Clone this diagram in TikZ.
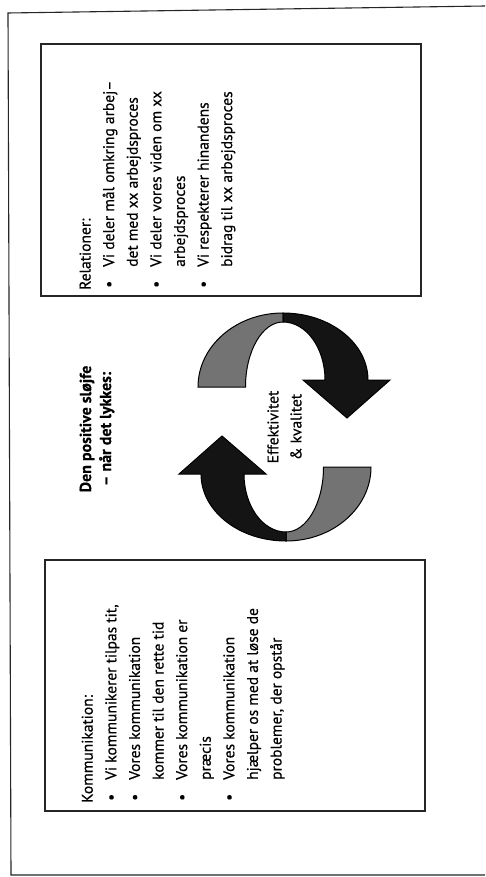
\documentclass[tikz,border=0pt]{standalone}
\usepackage{fontspec}
\setmainfont{PT Sans}[FakeBold=0.5]
\newcommand\bitem{\makebox[23pt][l]{\hspace{2pt}\textbullet}}
\newcommand\bcont{\hspace{23pt}}
\begin{document}
\begin{tikzpicture}[x=1pt,y=1pt,
  frameline/.style={draw=black!85, line width=1.1pt},
  panel/.style={draw=black!85, line width=1.2pt, rectangle, inner sep=0pt},
  bodyline/.style={rotate=90, anchor=base west, inner sep=0pt,
    font=\fontsize{15.5}{18}\selectfont},
  heading/.style={rotate=90, align=center, inner sep=0pt,
    font=\fontsize{16}{20}\selectfont\bfseries},
  hub/.style={rotate=90, align=center, inner sep=0pt,
    font=\fontsize{15.5}{23}\selectfont},
  backside/.style={fill=black!55, draw=black, line width=1pt},
  frontside/.style={fill=black!92, draw=black, line width=1pt, line join=miter}
]
\useasboundingbox (0,0) rectangle (485,-877);
\fill[white] (0,0) rectangle (485,-877);

% page frame, open on the right
\draw[frameline] (485,-6) -- (8,-13) -- (11,-875) -- (485,-875);

% the two panels
\node[panel, minimum width=380pt, minimum height=252pt] (relbox) at (231,-170) {};
\node[panel, minimum width=380pt, minimum height=251pt] (kombox) at (235,-685.5) {};

% Relationer panel text
\foreach \t [count=\i] in {
    {Relationer:},
    {\bitem Vi deler mål omkring arbej–},
    {\bcont det med xx arbejdsproces},
    {\bitem Vi deler vores viden om xx},
    {\bcont arbejdsproces},
    {\bitem Vi respekterer hinandens},
    {\bcont bidrag til xx arbejdsproces}}
  \node[bodyline] (rel\i) at (90.5+23.6*\i-23.6,-290) {\t};

% Kommunikation panel text
\foreach \t [count=\i] in {
    {Kommunikation:},
    {\bitem Vi kommunikerer tilpas tit,},
    {\bitem Vores kommunikation},
    {\bcont kommer til den rette tid},
    {\bitem Vores kommunikation er},
    {\bcont præcis},
    {\bitem Vores kommunikation},
    {\bcont hjælper os med at løse de},
    {\bcont problemer, der opstår}}
  \node[bodyline] (kom\i) at (92.7+23.6*\i-23.6,-803) {\t};

% loop title
\node[heading] (title) at (97,-429) {Den positive sløjfe\\– når det lykkes:};

% centre label
\node[hub] (hub) at (284.5,-427) {Effektivitet\\\& kvalitet};

% the two twisted ribbon arrows, point symmetric about the centre
\foreach \r/\nm in {0/upper,180/lower}{
  \begin{scope}[shift={(284.5,-427)}, rotate=\r]
    \path[backside] (-86.5,40)
      arc[start angle=180, end angle=90, x radius=85, y radius=74]
      -- (-1.5,105)
      arc[start angle=90, end angle=180, x radius=37.5, y radius=65]
      -- cycle;
    \path[frontside] (-1.5,114)
      arc[start angle=90, end angle=0, x radius=85, y radius=67]
      -- (105.5,47) -- (62.5,9) -- (18.5,47) -- (40.5,47)
      arc[start angle=0, end angle=90, x radius=42, y radius=58]
      -- cycle;
    \coordinate (\nm tip) at (62.5,9);
  \end{scope}
}
\end{tikzpicture}
\end{document}
